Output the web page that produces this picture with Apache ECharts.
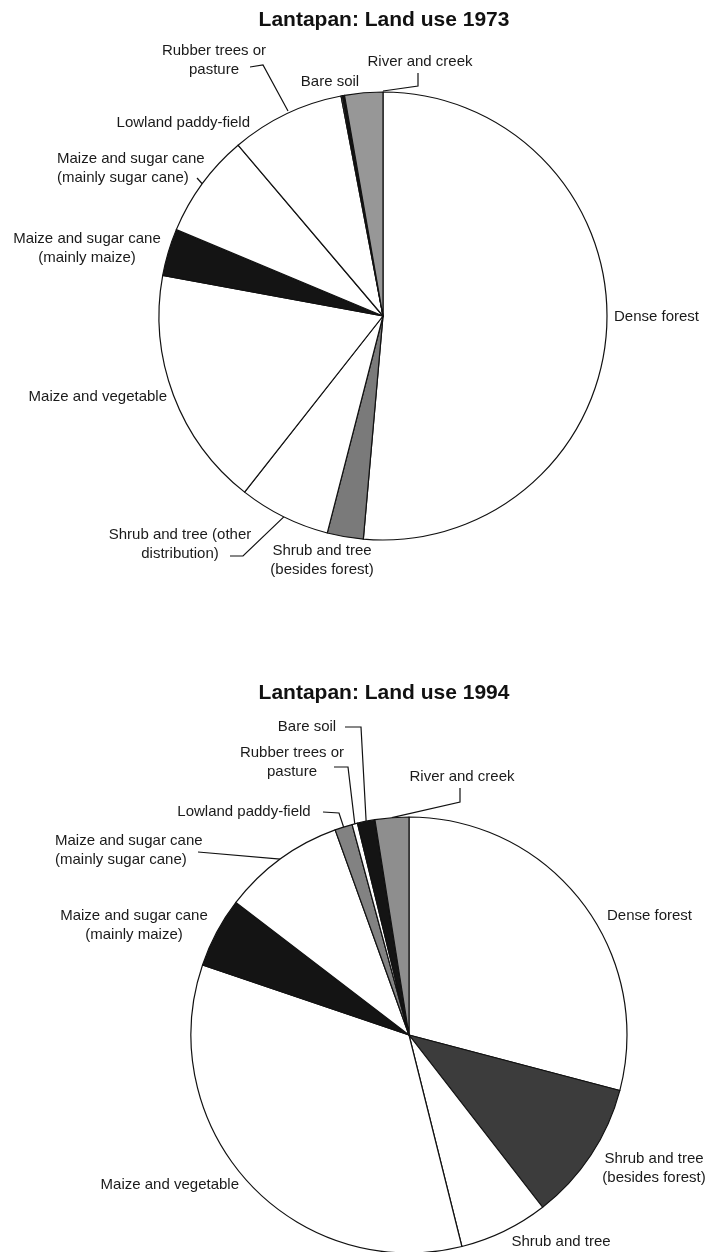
<!DOCTYPE html>
<html>
<head>
<meta charset="utf-8">
<script src="https://cdn.jsdelivr.net/npm/echarts@6/dist/echarts.min.js"></script>
<style>
  html, body { margin: 0; padding: 0; background: #fff; }
  #chart { width: 709px; height: 1252px; }
</style>
</head>
<body>
<div id="chart"></div>
<script>
// ---- Data (percent of land area) ----
const titles = ['Lantapan: Land use 1973', 'Lantapan: Land use 1994'];

const categories1973 = [
  'Dense forest',
  'Shrub and tree\n(besides forest)',
  'Shrub and tree (other\ndistribution)',
  'Maize and vegetable',
  'Maize and sugar cane\n(mainly maize)',
  'Maize and sugar cane\n(mainly sugar cane)',
  'Lowland paddy-field',
  'Rubber trees or\npasture',
  'Bare soil',
  'River and creek'
];
const values1973 = [51.4, 2.6, 6.6, 17.3, 3.4, 7.5, 8.2, 0.1, 0.15, 2.75];

const categories1994 = [
  'Dense forest',
  'Shrub and tree\n(besides forest)',
  'Shrub and tree',
  'Maize and vegetable',
  'Maize and sugar cane\n(mainly maize)',
  'Maize and sugar cane\n(mainly sugar cane)',
  'Lowland paddy-field',
  'Rubber trees or\npasture',
  'Bare soil',
  'River and creek'
];
const values1994 = [29.1, 10.4, 6.6, 34.1, 5.2, 9.1, 1.3, 0.4, 1.3, 2.5];

// ---- Styles (fills per slice, in category order) ----
const fills1973 = ['#ffffff', '#7a7a7a', '#ffffff', '#ffffff', '#141414', '#ffffff', '#ffffff', '#ffffff', '#141414', '#979797'];
const fills1994 = ['#ffffff', '#3c3c3c', '#ffffff', '#ffffff', '#141414', '#ffffff', '#828282', '#ffffff', '#141414', '#8e8e8e'];

// ---- Label layout (annotation placement, not data) ----
// [x, y, align, leaderBends (null = no leader), explicit leader end (optional)]
const labelLayout1973 = [
  [614, 317, 'left', null],
  [322, 560, 'center', null],
  [180, 544, 'center', [[243, 556], [230, 556]]],
  [167, 397, 'right', null],
  [87, 248, 'center', null],
  [57, 168, 'left', [[197, 178]]],
  [250, 123, 'right', null],
  [214, 60, 'center', [[263, 65], [250, 67]], [288, 111]],
  [330, 82, 'center', null],
  [420, 62, 'center', [[418, 86], [418, 73]], [383, 91]]
];
const labelLayout1994 = [
  [607, 916, 'left', null],
  [654, 1168, 'center', null],
  [561, 1242, 'center', null],
  [239, 1185, 'right', null],
  [134, 925, 'center', null],
  [55, 850, 'left', [[198, 852]]],
  [244, 812, 'center', [[339, 813], [323, 812]]],
  [292, 762, 'center', [[348, 767], [334, 767]]],
  [307, 727, 'center', [[361, 727], [345, 727]]],
  [462, 777, 'center', [[460, 802], [460, 788]]]
];

const FONT = '"Liberation Sans", Arial, Helvetica, sans-serif';

function buildData(cats, vals, fills, layout) {
  return cats.map((c, i) => ({
    name: c,
    value: vals[i],
    itemStyle: { color: fills[i] },
    labelLine: { show: !!layout[i][3] }
  }));
}

function makeLayoutFn(layout) {
  return function (params) {
    const L = layout[params.dataIndex];
    const out = { x: L[0], y: L[1], align: L[2], verticalAlign: 'middle' };
    if (L[3]) {
      const anchor = L[4] ? L[4] : (params.labelLinePoints ? params.labelLinePoints[0] : null);
      if (anchor) out.labelLinePoints = [anchor].concat(L[3]);
    }
    return out;
  };
}

function pieSeries(cats, vals, fills, layout, center, radius) {
  return {
    type: 'pie',
    center: center,
    radius: radius,
    startAngle: 90,
    clockwise: true,
    avoidLabelOverlap: false,
    animation: false,
    silent: true,
    itemStyle: { borderColor: '#111', borderWidth: 1.2 },
    label: {
      show: true,
      position: 'outside',
      formatter: '{b}',
      color: '#1a1a1a',
      fontFamily: FONT,
      fontSize: 15,
      lineHeight: 19
    },
    labelLine: {
      show: true,
      lineStyle: { color: '#111', width: 1.2 }
    },
    labelLayout: makeLayoutFn(layout),
    data: buildData(cats, vals, fills, layout)
  };
}

const chart = echarts.init(document.getElementById('chart'), null, { renderer: 'canvas' });
chart.setOption({
  backgroundColor: '#ffffff',
  animation: false,
  title: [
    { text: titles[0], left: 379, top: 5, textAlign: 'center',
      textStyle: { fontFamily: FONT, fontSize: 21, fontWeight: 'bold', color: '#111' } },
    { text: titles[1], left: 379, top: 678, textAlign: 'center',
      textStyle: { fontFamily: FONT, fontSize: 21, fontWeight: 'bold', color: '#111' } }
  ],
  series: [
    pieSeries(categories1973, values1973, fills1973, labelLayout1973, [383, 316], 224),
    pieSeries(categories1994, values1994, fills1994, labelLayout1994, [409, 1035], 218)
  ]
});
</script>
</body>
</html>
